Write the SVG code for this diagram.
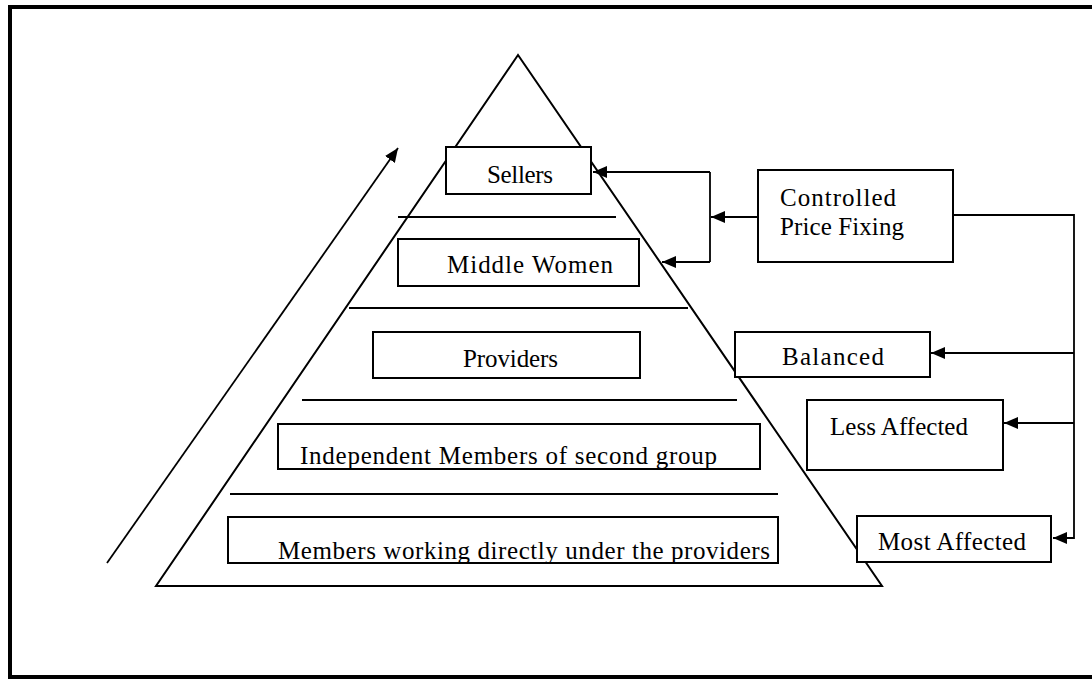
<svg xmlns="http://www.w3.org/2000/svg" width="1092" height="681" viewBox="0 0 1092 681">
<style>
.bx{fill:#fff;stroke:#000;stroke-width:2}
.ln{fill:none;stroke:#000;stroke-width:2}
.t{font-family:"Liberation Serif","Times New Roman",serif;font-size:25px;fill:#000}
.cn{fill:none;stroke:#000;stroke-width:1.8}
</style>
<defs>
<marker id="ah" markerUnits="userSpaceOnUse" markerWidth="15" markerHeight="12" refX="14" refY="6" orient="auto">
<path d="M0,0 L14,6 L0,12 z" fill="#000"/>
</marker>
<clipPath id="clipInd"><rect x="279" y="425" width="480" height="43"/></clipPath>
<clipPath id="clipMem"><rect x="229" y="518" width="548" height="44"/></clipPath>
</defs>
<rect width="1092" height="681" fill="#fff"/>
<path d="M1092,7 L10,7 L10,677 L1092,677" fill="none" stroke="#000" stroke-width="4"/>

<g id="pyramid">
<polygon points="518,55 156,586 882,586" class="ln" fill="none"/>
<line x1="398" y1="217" x2="616" y2="217" class="ln"/>
<line x1="349" y1="308" x2="688" y2="308" class="ln"/>
<line x1="302" y1="400" x2="737" y2="400" class="ln"/>
<line x1="230" y1="494" x2="778" y2="494" class="ln"/>
</g>

<g id="sellers">
<rect x="446" y="147" width="145" height="47" class="bx"/>
<text x="487" y="183" class="t" textLength="66">Sellers</text>
</g>
<g id="middle-women">
<rect x="398" y="239" width="241" height="47" class="bx"/>
<text x="447" y="273" class="t" textLength="166">Middle Women</text>
</g>
<g id="providers">
<rect x="373" y="332" width="267" height="46" class="bx"/>
<text x="463" y="367" class="t" textLength="95">Providers</text>
</g>
<g id="independent">
<rect x="278" y="424" width="482" height="45" class="bx"/>
<text x="300" y="464" class="t" textLength="417" clip-path="url(#clipInd)">Independent Members of second group</text>
</g>
<g id="members">
<rect x="228" y="517" width="550" height="46" class="bx"/>
<text x="278" y="559" class="t" textLength="492" clip-path="url(#clipMem)">Members working directly under the providers</text>
</g>
<g id="controlled">
<rect x="758" y="170" width="195" height="92" class="bx"/>
<text x="780" y="206" class="t" textLength="116">Controlled</text>
<text x="780" y="235" class="t" textLength="124">Price Fixing</text>
</g>
<g id="balanced">
<rect x="735" y="332" width="195" height="45" class="bx"/>
<text x="782" y="365" class="t" textLength="102">Balanced</text>
</g>
<g id="less-affected">
<rect x="807" y="400" width="196" height="70" class="bx"/>
<text x="830" y="435" class="t" textLength="138">Less Affected</text>
</g>
<g id="most-affected">
<rect x="857" y="516" width="194" height="46" class="bx"/>
<text x="878" y="550" class="t" textLength="148">Most Affected</text>
</g>

<g id="connectors">
<line x1="758" y1="217" x2="711" y2="217" class="cn" marker-end="url(#ah)"/>
<line x1="710" y1="172" x2="710" y2="262" class="cn"/>
<line x1="710" y1="172" x2="593" y2="172" class="cn" marker-end="url(#ah)"/>
<line x1="710" y1="262" x2="662" y2="262" class="cn" marker-end="url(#ah)"/>
<polyline points="953,215 1074,215 1074,538 1053,538" class="cn" marker-end="url(#ah)"/>
<line x1="1074" y1="353" x2="931" y2="353" class="cn" marker-end="url(#ah)"/>
<line x1="1074" y1="423" x2="1004" y2="423" class="cn" marker-end="url(#ah)"/>
<line x1="107" y1="563" x2="398" y2="148" class="cn" marker-end="url(#ah)"/>
</g>
</svg>
